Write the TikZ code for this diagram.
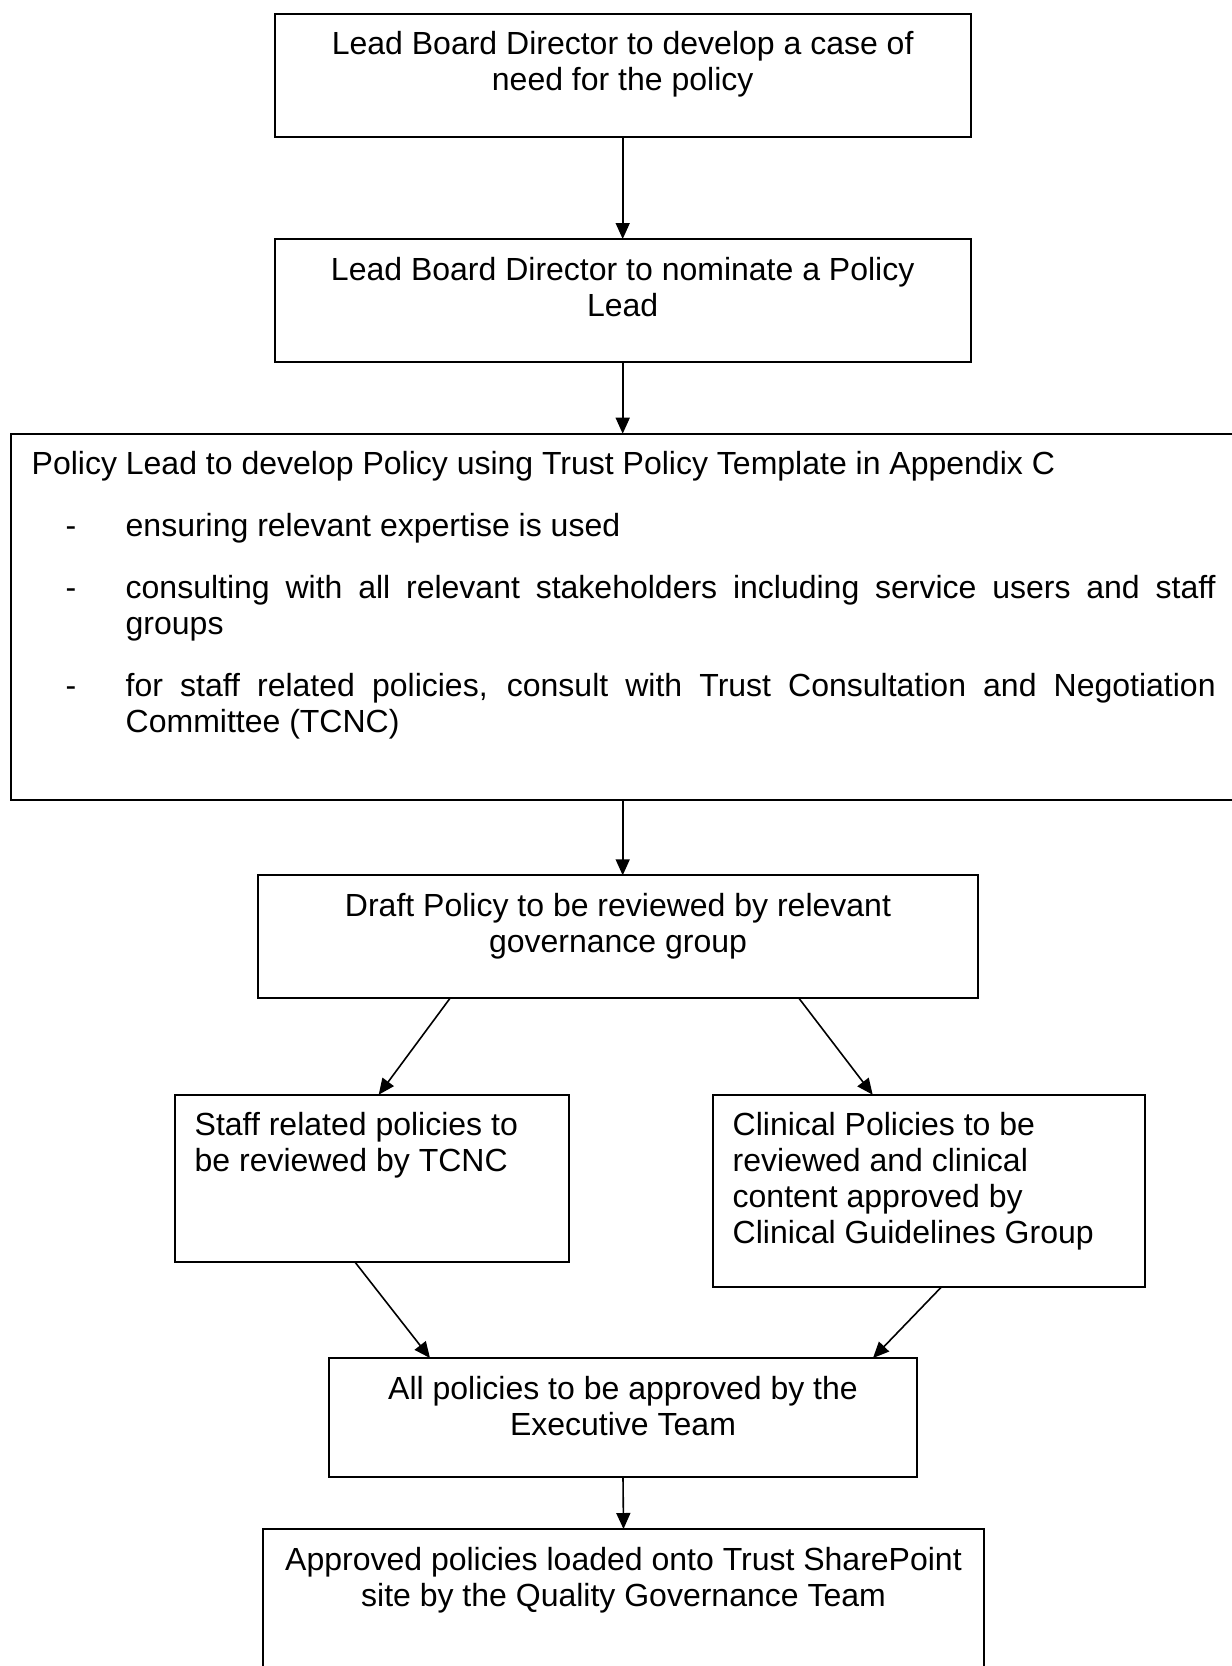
\documentclass[tikz,border=0pt]{standalone}
\usepackage{fontspec}
\setmainfont{Liberation Sans}
\usetikzlibrary{arrows.meta}
% natural, non-stretching interword space of the current font
\newcommand{\fontspaces}{\spaceskip=\fontdimen2\font\relax \xspaceskip=\fontdimen2\font\relax}
\begin{document}
\begin{tikzpicture}[x=0.5pt, y=-0.5pt,
  every node/.style={font=\fontsize{16pt}{18pt}\selectfont},
  box/.style={draw, line width=1pt, outer sep=0pt, anchor=north west,
              inner ysep=7.9pt, text height=12.6pt},
  cbox/.style={box, inner xsep=0pt, align=center},
  lbox/.style={box, inner xsep=10pt, align=left},
  flow/.style={-{Triangle[length=8pt,width=7pt]}, line width=0.8pt}]

\useasboundingbox (0,0) rectangle (1232,1666);

% process steps
\node[cbox, text width=348pt, text depth=33.1pt] (b1) at (274.7,13.7)
  {\fontspaces Lead Board Director to develop a case of\\need for the policy};
\node[cbox, text width=348pt, text depth=33.1pt] (b2) at (274.7,239)
  {\fontspaces Lead Board Director to nominate a Policy\\Lead};
\node[box, inner xsep=10.5pt, text width=592pt, align=left, text depth=154.6pt] (b3) at (10.7,433.7)
  {\spaceskip=0pt \xspaceskip=0pt \parindent=0pt \parskip=13pt
   Policy Lead to develop Policy using Trust Policy Template in Appendix C\par
   \leftskip=47pt \rightskip=0pt \parfillskip=0pt plus 1fil
   \hbadness=10000 \hyphenpenalty=10000 \tolerance=9999
   \leavevmode\llap{\makebox[30pt][l]{-}}ensuring relevant expertise is used\par
   \leavevmode\llap{\makebox[30pt][l]{-}}consulting with all relevant stakeholders including service users and staff\linebreak groups\par
   \leavevmode\llap{\makebox[30pt][l]{-}}for staff related policies, consult with Trust Consultation and Negotiation\linebreak Committee (TCNC)\par};
\node[cbox, text width=360pt, text depth=33.1pt] (b4) at (258,875.3)
  {\fontspaces Draft Policy to be reviewed by relevant\\governance group};
\node[lbox, text width=177pt, text depth=55.1pt] (b5) at (174.7,1094.7)
  {\fontspaces Staff related policies to\\be reviewed by TCNC};
\node[lbox, text width=196pt, text depth=67.6pt] (b6) at (712.7,1094.7)
  {\fontspaces Clinical Policies to be\\reviewed and clinical\\content approved by\\Clinical Guidelines Group};
\node[cbox, text width=294pt, text depth=31.1pt] (b7) at (329,1358)
  {\fontspaces All policies to be approved by the\\Executive Team};
\node[cbox, text width=360.5pt, text depth=61.6pt] (b8) at (263,1529)
  {\fontspaces Approved policies loaded onto Trust SharePoint\\site by the Quality Governance Team};

% connectors
\draw[flow] (b1.south) -- (b2.north);
\draw[flow] (b2.south) -- (b2.south |- b3.north);
\draw[flow] (b2.south |- b3.south) -- (b2.south |- b4.north);
\draw[flow] ([xshift=96pt]b4.south west) -- ([xshift=102pt]b5.north west);
\draw[flow] ([xshift=270.5pt]b4.south west) -- ([xshift=80pt]b6.north west);
\draw[flow] ([xshift=90pt]b5.south west) -- ([xshift=50.5pt]b7.north west);
\draw[flow] ([xshift=114.5pt]b6.south west) -- ([xshift=272pt]b7.north west);
\draw[flow] (b7.south) -- (b8.north);
\end{tikzpicture}
\end{document}
